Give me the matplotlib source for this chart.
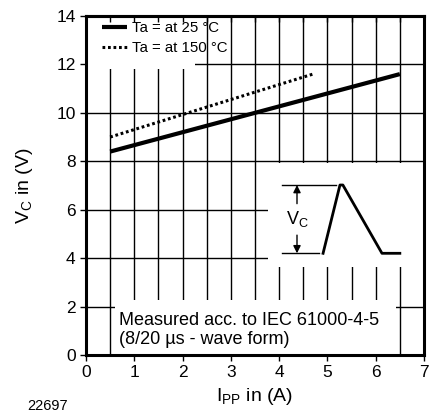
import numpy as np
import matplotlib
matplotlib.use("Agg")
import matplotlib.pyplot as plt
from matplotlib.patches import Rectangle
from matplotlib.ticker import MultipleLocator

plt.rcParams['font.family'] = ['Liberation Sans', 'DejaVu Sans']

# clamping voltage vs peak pulse current
ipp_25 = [0.5, 6.5]
vc_25 = [8.4, 11.6]
ipp_150 = [0.5, 4.7]
vc_150 = [9.0, 11.6]

# inset waveform sketch (data coords)
wave_x = [4.91, 5.26, 5.32, 6.13, 6.50]
wave_y = [4.2, 7.02, 7.02, 4.2, 4.2]

fig = plt.figure(figsize=(4.3, 4.16), dpi=100)
ax = fig.add_axes([0.2, 0.1466, 0.786, 0.815])

ax.set_xlim(0, 7)
ax.set_ylim(0, 14)
ax.xaxis.set_major_locator(MultipleLocator(1))
ax.xaxis.set_minor_locator(MultipleLocator(0.5))
ax.yaxis.set_major_locator(MultipleLocator(2))
ax.set_axisbelow(True)
ax.grid(True, which='major', axis='y', color='black', lw=1)
ax.grid(True, which='both', axis='x', color='black', lw=1)
ax.tick_params(which='both', direction='out', length=4, width=1, labelsize=12.5, colors='black')
ax.tick_params(which='minor', length=0)
for s in ax.spines.values():
    s.set_linewidth(2.2)

# inward ticks along the top
top = ax.secondary_xaxis('top')
top.xaxis.set_major_locator(MultipleLocator(0.5))
top.tick_params(direction='in', length=4, width=1, labeltop=False)
top.spines['top'].set_linewidth(2.2)
top.set_zorder(2)

# white boxes covering grid
ax.add_patch(Rectangle((0, 11.8), 2.26, 2.2, facecolor='white', edgecolor='none', zorder=1))
ax.add_patch(Rectangle((3.77, 3.62), 3.2, 4.3, facecolor='white', edgecolor='none', zorder=1))
ax.add_patch(Rectangle((0.6, 0.02), 5.83, 2.25, facecolor='white', edgecolor='none', zorder=1))

ax.plot(ipp_25, vc_25, color='black', lw=3, solid_capstyle='butt', zorder=3, label='Ta = at 25 °C')
ax.plot(ipp_150, vc_150, color='black', lw=2.2, ls=(0, (0.9, 0.9)), zorder=3, label='Ta = at 150 °C')

ax.legend(loc='upper left', frameon=False, fontsize=10.8, handlelength=1.7, handletextpad=0.3,
          borderpad=0, borderaxespad=0, labelspacing=0.4, bbox_to_anchor=(0.047, 0.985))

# inset waveform
ax.plot(wave_x, wave_y, color='black', lw=2, zorder=3)
ax.plot([4.06, 5.18], [7.02, 7.02], color='black', lw=1, zorder=3)
ax.plot([4.06, 4.82], [4.2, 4.2], color='black', lw=1, zorder=3)
ax.annotate('', xy=(4.37, 7.02), xytext=(4.37, 6.25),
            arrowprops=dict(arrowstyle='-|>', color='black', lw=1, mutation_scale=11,
                            shrinkA=0, shrinkB=0), zorder=3)
ax.annotate('', xy=(4.37, 4.2), xytext=(4.37, 4.95),
            arrowprops=dict(arrowstyle='-|>', color='black', lw=1, mutation_scale=11,
                            shrinkA=0, shrinkB=0), zorder=3)
ax.text(4.37, 5.6, r'V$_\mathregular{C}$', ha='center', va='center', fontsize=13, zorder=3)

ax.text(0.68, 1.25, 'Measured acc. to IEC 61000-4-5', fontsize=13, va='baseline', zorder=3)
ax.text(0.68, 0.45, '(8/20 µs - wave form)', fontsize=13, va='baseline', zorder=3)

ax.set_xlabel(r'I$_\mathregular{PP}$ in (A)', fontsize=14, labelpad=4)
ax.set_ylabel(r'V$_\mathregular{C}$ in (V)', fontsize=14, labelpad=15)
fig.text(0.063, 0.015, '22697', fontsize=10.5)

fig.savefig('out.png', dpi=100)
